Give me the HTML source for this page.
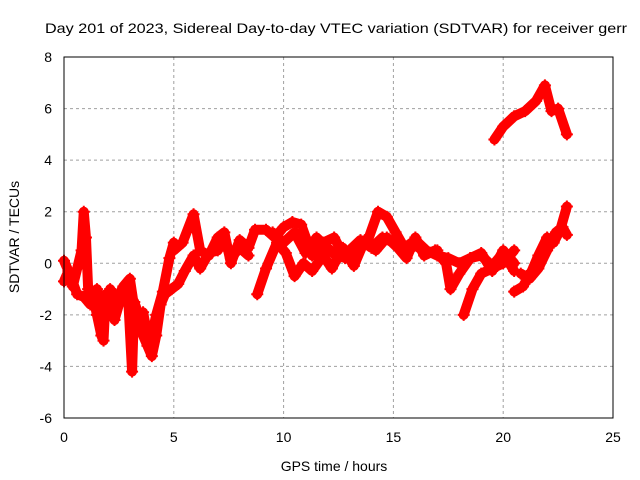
<!DOCTYPE html>
<html><head><meta charset="utf-8"><style>
body{margin:0;background:#fff;}
svg{display:block;font-family:"Liberation Sans",sans-serif;}
</style></head><body>
<svg id="chart" width="640" height="480" viewBox="0 0 640 480">
<rect width="640" height="480" fill="#fff"/>
<text x="45" y="33" font-size="14" textLength="582" lengthAdjust="spacingAndGlyphs" fill="#000">Day 201 of 2023, Sidereal Day-to-day VTEC variation (SDTVAR) for receiver gerr</text>
<g id="grid"></g><g id="ticks"></g><g id="series"></g>
<rect x="64" y="57" width="549" height="361" fill="none" stroke="#000" stroke-width="1"/>
<text x="334" y="471" font-size="14" text-anchor="middle">GPS time / hours</text>
<text transform="translate(19,237) rotate(-90)" font-size="14" text-anchor="middle">SDTVAR / TECUs</text>
</svg>
<script>
const xTicks=[0,5,10,15,20,25];
const yTicks=[-6,-4,-2,0,2,4,6,8];
const tA=[0,0.2,0.4,0.6,0.8,0.9,1.0,1.1,1.3,1.5,1.7,1.8,1.9,2.1,2.3,2.5,2.7,2.9,3.1,3.2,3.4,3.6,3.8,4.0,4.2,4.4,4.6,4.9,5.2,5.5,5.9,6.2,6.6,7.0,7.3,7.6,8.0,8.4];
const vA=[-0.7,-0.3,-0.9,-0.2,0.5,2.0,1.0,-1.0,-1.2,-2.0,-2.8,-3.0,-1.2,-1.6,-2.2,-1.6,-1.0,-1.0,-4.2,-1.5,-2.0,-2.8,-3.2,-3.6,-2.8,-1.6,-1.2,-1.0,-0.8,-0.3,0.3,-0.2,0.4,0.5,0.9,0.2,0.6,0.3];
const tA2=[0,0.3,0.6,0.9,1.2,1.5,1.8,2.1,2.4,2.7,3.0,3.3,3.6,3.9,4.2,4.5,4.8,5.0];
const vA2=[0.1,-0.5,-1.2,-1.3,-1.6,-1.0,-2.0,-1.0,-1.4,-0.9,-0.6,-2.3,-1.9,-3.2,-2.0,-1.1,0.2,0.8];
const tB=[5.0,5.4,5.9,6.2,6.6,7.0,7.3,7.6,8.0,8.4,8.7,9.2,9.6,10.0,10.4,10.8,11.3,11.8,12.3,12.8,13.3,13.8,14.3,14.7,15.1,15.5,16.0,16.5,17.0,17.5,18.0,18.5,19.0,19.5,20.0,20.5];
const vB=[0.5,0.8,1.9,0.5,0.3,1.0,1.2,0.0,0.9,0.6,1.3,1.3,1.0,1.4,1.6,1.5,0.3,0.8,1.0,0.2,0.6,0.8,2.0,1.8,1.2,0.6,0.9,0.5,0.3,0.2,0.0,0.2,0.4,-0.3,0.5,0.0];
const tC=[8.8,9.2,9.7,10.1,10.5,10.9,11.3,11.8,12.2,12.7,13.2,13.7,14.2,14.7,15.2,15.6,16.0,16.4,16.9,17.4,17.6,18.0,18.5,19.0,19.5,20.0,20.5];
const vC=[-1.2,-0.2,0.8,0.4,-0.5,0.0,-0.3,0.3,-0.2,0.6,-0.1,0.9,0.5,1.0,0.6,0.2,1.0,0.3,0.5,0.0,-1.0,-0.4,0.2,0.3,-0.1,0.4,-0.3];
const tH=[9.5,10.0,10.5,11.0,11.5,12.0,12.5,13.0,13.5,14.0,14.5,15.0,15.5,16.0,16.5,17.0];
const vH=[1.2,0.8,1.2,0.4,1.0,0.6,0.2,0.5,0.9,0.6,1.0,0.8,0.4,0.7,0.4,0.5];
const tD=[18.2,18.6,19.0,19.5,20.0,20.5];
const vD=[-2.0,-1.0,-0.4,-0.2,0.0,0.5];
const tE=[19.6,20.0,20.5,21.0,21.5,21.9,22.2,22.5,22.9];
const vE=[4.8,5.3,5.7,5.9,6.3,6.9,5.9,6.0,5.0];
const tF=[20.5,20.9,21.3,21.6,22.0,22.3,22.6,22.9];
const vF=[-1.1,-0.9,-0.3,0.3,1.0,0.8,1.3,2.2];
const tG=[20.8,21.2,21.6,22.0,22.4,22.7,22.9];
const vG=[-0.4,-0.6,-0.2,0.5,1.2,1.4,1.1];
const NS="http://www.w3.org/2000/svg";
const X=t=>64+t*549/25, Y=v=>57+(8-v)*361/14;
const grid=document.getElementById('grid'),ticks=document.getElementById('ticks'),ser=document.getElementById('series');
function mk(tag,at,p){const e=document.createElementNS(NS,tag);for(const k in at)e.setAttribute(k,at[k]);p.appendChild(e);return e;}
xTicks.forEach(t=>{const x=X(t);
 if(t>0&&t<25){const g=mk('line',{x1:x,x2:x,y1:57,y2:418,stroke:'#a0a0a0','stroke-dasharray':'3,3'},grid);
 
 }
 const tx=mk('text',{x:x,y:442,'font-size':14,'text-anchor':'middle'},ticks);tx.textContent=t;
 
 });
yTicks.forEach(v=>{const y=Y(v);
 if(v>-6&&v<8){const g=mk('line',{x1:64,x2:613,y1:y,y2:y,stroke:'#a0a0a0','stroke-dasharray':'3,3'},grid);
 
 }
 const tx=mk('text',{x:52,y:y+5,'font-size':14,'text-anchor':'end'},ticks);tx.textContent=v;
 
 });
[[tA,vA],[tA2,vA2],[tB,vB],[tC,vC],[tH,vH],[tD,vD],[tE,vE],[tF,vF],[tG,vG]].forEach(([ts,vs],i)=>{
 const pts=ts.map((t,j)=>X(t)+','+Y(vs[j])).join(' ');
 const pl=mk('polyline',{points:pts,fill:'none',stroke:'#f00','stroke-width':10,'stroke-linejoin':'round','stroke-linecap':'round'},ser);
 
 
 ts.forEach((t,j)=>{const x=X(t),y=Y(vs[j]);
  const m=mk('path',{d:`M${x-6},${y}H${x+6}M${x},${y-6}V${y+6}`,stroke:'#f00','stroke-width':2},ser);
  
  });
});
</script>
</body></html>
